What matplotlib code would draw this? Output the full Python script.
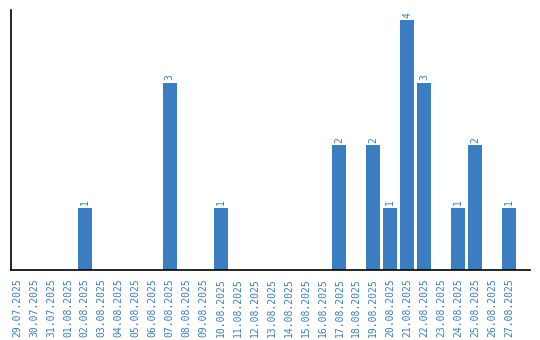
import matplotlib
matplotlib.use("Agg")
import matplotlib.pyplot as plt

dates = ["29.07.2025", "30.07.2025", "31.07.2025", "01.08.2025", "02.08.2025",
         "03.08.2025", "04.08.2025", "05.08.2025", "06.08.2025", "07.08.2025",
         "08.08.2025", "09.08.2025", "10.08.2025", "11.08.2025", "12.08.2025",
         "13.08.2025", "14.08.2025", "15.08.2025", "16.08.2025", "17.08.2025",
         "18.08.2025", "19.08.2025", "20.08.2025", "21.08.2025", "22.08.2025",
         "23.08.2025", "24.08.2025", "25.08.2025", "26.08.2025", "27.08.2025"]
counts = [0, 0, 0, 0, 1, 0, 0, 0, 0, 3, 0, 0, 1, 0, 0, 0, 0, 0, 0, 2,
          0, 2, 1, 4, 3, 0, 1, 2, 0, 1]

blue = "#3a7dc1"
fig = plt.figure(figsize=(5.4, 3.4), dpi=100)
ax = fig.add_axes([11/540, 70/340, 519/540, 260/340])
x = list(range(len(dates)))
ax.bar(x, counts, width=0.82, color=blue)
for xi, v in zip(x, counts):
    if v > 0:
        ax.text(xi, v + 0.04, str(v), rotation=90, ha="center", va="bottom",
                color=blue, fontsize=7, family="DejaVu Sans Mono")
ax.set_xlim(-0.353, 30.235)
ax.set_ylim(0, 4.16)
ax.set_xticks(x)
ax.set_xticklabels(dates, rotation=90, color=blue, fontsize=7, family="DejaVu Sans Mono")
ax.tick_params(axis="x", length=0, pad=6)
ax.set_yticks([])
for s in ["top", "right"]:
    ax.spines[s].set_visible(False)
for s in ["left", "bottom"]:
    ax.spines[s].set_color("black")
    ax.spines[s].set_linewidth(1.2)
fig.savefig("out.png", dpi=100)
